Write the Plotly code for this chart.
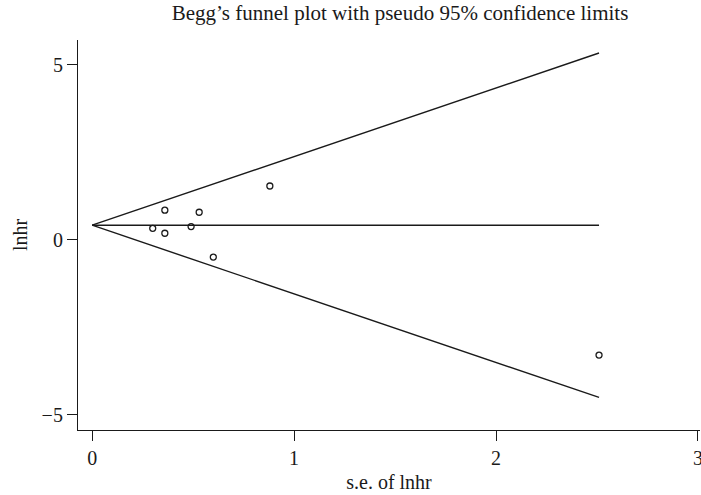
import plotly.graph_objects as go

# Study-level data
se_lnhr = [0.30, 0.36, 0.36, 0.49, 0.53, 0.60, 0.88, 2.51]
lnhr = [0.33, 0.85, 0.19, 0.38, 0.79, -0.49, 1.54, -3.29]

# Pooled estimate and pseudo 95% limits
pooled = 0.42
z = 1.96
se_limits = [0.0, max(se_lnhr)]
upper = [pooled + z * s for s in se_limits]
lower = [pooled - z * s for s in se_limits]

x_ticks = [0, 1, 2, 3]
y_ticks = [-5, 0, 5]

font_family = "Liberation Serif, DejaVu Serif, serif"
line_col = "#1a1a1a"

fig = go.Figure()
fig.add_trace(go.Scatter(x=se_limits, y=upper, mode="lines",
                         line=dict(color=line_col, width=1.4), showlegend=False, hoverinfo="skip"))
fig.add_trace(go.Scatter(x=se_limits, y=lower, mode="lines",
                         line=dict(color=line_col, width=1.4), showlegend=False, hoverinfo="skip"))
fig.add_trace(go.Scatter(x=se_limits, y=[pooled, pooled], mode="lines",
                         line=dict(color=line_col, width=1.4), showlegend=False, hoverinfo="skip"))
fig.add_trace(go.Scatter(x=se_lnhr, y=lnhr, mode="markers",
                         marker=dict(symbol="circle-open", size=6, color=line_col,
                                     line=dict(width=1.3, color=line_col)),
                         showlegend=False))

fig.update_layout(
    width=701, height=495,
    paper_bgcolor="white", plot_bgcolor="white",
    margin=dict(l=78, r=1, t=40, b=65, autoexpand=False),
    font=dict(family=font_family, size=20, color="#1a1a1a"),
    title=dict(text="Begg\u2019s funnel plot with pseudo 95% confidence limits",
               x=400 / 701, xanchor="center", y=1 - 13 / 495, yanchor="middle",
               font=dict(family=font_family, size=21, color="#1a1a1a"),
               automargin=False),
)
fig.update_xaxes(range=[-0.07, 3.01], tickvals=x_ticks, ticktext=[str(v) for v in x_ticks],
                 showline=True, linecolor=line_col, linewidth=1.2,
                 ticks="outside", ticklen=10, tickwidth=1.2, tickcolor=line_col,
                 ticklabeloverflow="allow",
                 showgrid=False, zeroline=False, automargin=False,
                 title=dict(text="s.e. of lnhr", standoff=6, font=dict(size=20)))
fig.update_yaxes(range=[-5.43, 5.71], tickvals=y_ticks, ticktext=["\u22125", "0", "5"],
                 showline=True, linecolor=line_col, linewidth=1.2,
                 ticks="outside", ticklen=10, tickwidth=1.2, tickcolor=line_col,
                 ticklabeloverflow="allow",
                 showgrid=False, zeroline=False, automargin=False,
                 title=dict(text="lnhr", standoff=8, font=dict(size=20)))

fig.write_html("out.html",
               config={"displayModeBar": False},
               post_script="document.body.style.margin='0';document.body.style.overflow='hidden';")
